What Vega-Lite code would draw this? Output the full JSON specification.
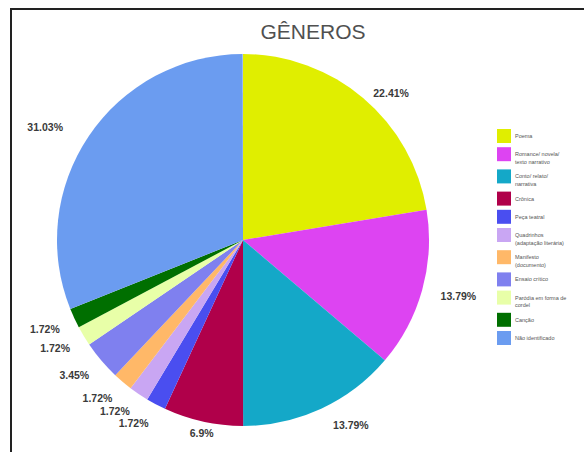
{
  "$schema": "https://vega.github.io/schema/vega-lite/v6.json",
  "autosize": "none",
  "width": 576,
  "height": 446,
  "padding": {"left": 11, "top": 9, "right": 0, "bottom": 0},
  "background": "white",
  "config": {
    "view": {"stroke": "#222222", "strokeWidth": 2},
    "font": "Liberation Sans"
  },
  "title": {
    "text": "GÊNEROS",
    "anchor": "middle",
    "dx": 14,
    "offset": -34,
    "fontSize": 21,
    "fontWeight": "normal",
    "color": "#505050",
    "font": "Liberation Sans"
  },
  "data": {
    "values": [
      {"i": 1, "genero": "Poema", "pct": 22.41, "rotulo": "22.41%"},
      {"i": 2, "genero": "Romance/ novela/ texto narrativo", "pct": 13.79, "rotulo": "13.79%"},
      {"i": 3, "genero": "Conto/ relato/ narrativa", "pct": 13.79, "rotulo": "13.79%"},
      {"i": 4, "genero": "Crônica", "pct": 6.9, "rotulo": "6.9%"},
      {"i": 5, "genero": "Peça teatral", "pct": 1.72, "rotulo": "1.72%"},
      {"i": 6, "genero": "Quadrinhos (adaptação literária)", "pct": 1.72, "rotulo": "1.72%"},
      {"i": 7, "genero": "Manifesto (documento)", "pct": 1.72, "rotulo": "1.72%"},
      {"i": 8, "genero": "Ensaio crítico", "pct": 3.45, "rotulo": "3.45%"},
      {"i": 9, "genero": "Paródia em forma de cordel", "pct": 1.72, "rotulo": "1.72%"},
      {"i": 10, "genero": "Canção", "pct": 1.72, "rotulo": "1.72%"},
      {"i": 11, "genero": "Não identificado", "pct": 31.03, "rotulo": "31.03%"}
    ]
  },
  "transform": [
    {"stack": "pct", "groupby": [], "sort": [{"field": "i", "order": "ascending"}], "as": ["a0", "a1"]},
    {"calculate": "(datum.a0 + datum.a1) / 2", "as": "meio"}
  ],
  "encoding": {
    "x": {"value": 232},
    "y": {"value": 231}
  },
  "layer": [
    {
      "mark": {"type": "arc", "outerRadius": 186},
      "encoding": {
        "theta": {"field": "a0", "type": "quantitative", "scale": {"domain": [0, 100]}},
        "theta2": {"field": "a1"},
        "color": {
          "field": "genero",
          "type": "nominal",
          "sort": null,
          "scale": {
            "domain": ["Poema", "Romance/ novela/ texto narrativo", "Conto/ relato/ narrativa", "Crônica", "Peça teatral", "Quadrinhos (adaptação literária)", "Manifesto (documento)", "Ensaio crítico", "Paródia em forma de cordel", "Canção", "Não identificado"],
            "range": ["#e0ee00", "#dd44f2", "#14a8c8", "#b0004a", "#4a4ef0", "#c9a6f3", "#ffb868", "#7f80ef", "#e8ffa8", "#006f00", "#6b9cf0"]
          },
          "legend": {
            "title": null,
            "orient": "none",
            "legendX": 486,
            "legendY": 120,
            "padding": 0,
            "symbolType": "square",
            "symbolSize": 196,
            "symbolStrokeWidth": 0,
            "symbolOpacity": 1,
            "labelFontSize": 5.5,
            "labelColor": "#555555",
            "labelOffset": 4,
            "labelLimit": 70,
            "rowPadding": 4.2,
            "labelExpr": "datum.label == 'Romance/ novela/ texto narrativo' ? ['Romance/ novela/', 'texto narrativo'] : datum.label == 'Conto/ relato/ narrativa' ? ['Conto/ relato/', 'narrativa'] : datum.label == 'Quadrinhos (adaptação literária)' ? ['Quadrinhos', '(adaptação literária)'] : datum.label == 'Manifesto (documento)' ? ['Manifesto', '(documento)'] : datum.label == 'Paródia em forma de cordel' ? ['Paródia em forma de', 'cordel'] : datum.label"
          }
        }
      }
    },
    {
      "transform": [{"filter": "datum.i == 1"}],
      "mark": {"type": "text", "radius": 192, "dx": 6, "dy": 5, "align": "left", "baseline": "bottom", "fontSize": 10.5, "fontWeight": "bold", "color": "#3a3a3a"},
      "encoding": {
        "theta": {"field": "meio", "type": "quantitative", "scale": {"domain": [0, 100]}},
        "text": {"field": "rotulo", "type": "nominal"}
      }
    },
    {
      "transform": [{"filter": "datum.i == 2"}],
      "mark": {"type": "text", "radius": 205, "dy": 2, "align": "left", "baseline": "middle", "fontSize": 10.5, "fontWeight": "bold", "color": "#3a3a3a"},
      "encoding": {
        "theta": {"field": "meio", "type": "quantitative", "scale": {"domain": [0, 100]}},
        "text": {"field": "rotulo", "type": "nominal"}
      }
    },
    {
      "transform": [{"filter": "datum.i == 3"}],
      "mark": {"type": "text", "radius": 200, "dx": 6, "align": "left", "baseline": "top", "fontSize": 10.5, "fontWeight": "bold", "color": "#3a3a3a"},
      "encoding": {
        "theta": {"field": "meio", "type": "quantitative", "scale": {"domain": [0, 100]}},
        "text": {"field": "rotulo", "type": "nominal"}
      }
    },
    {
      "transform": [{"filter": "datum.i == 4"}],
      "mark": {"type": "text", "radius": 193, "align": "center", "baseline": "top", "fontSize": 10.5, "fontWeight": "bold", "color": "#3a3a3a"},
      "encoding": {
        "theta": {"field": "meio", "type": "quantitative", "scale": {"domain": [0, 100]}},
        "text": {"field": "rotulo", "type": "nominal"}
      }
    },
    {
      "transform": [{"filter": "datum.i >= 5 && datum.i <= 10"}],
      "mark": {"type": "text", "radius": 202, "align": "right", "baseline": "top", "fontSize": 10.5, "fontWeight": "bold", "color": "#3a3a3a"},
      "encoding": {
        "theta": {"field": "meio", "type": "quantitative", "scale": {"domain": [0, 100]}},
        "text": {"field": "rotulo", "type": "nominal"}
      }
    },
    {
      "transform": [{"filter": "datum.i == 11"}],
      "mark": {"type": "text", "radius": 210, "dx": -6, "dy": 11, "align": "right", "baseline": "bottom", "fontSize": 10.5, "fontWeight": "bold", "color": "#3a3a3a"},
      "encoding": {
        "theta": {"field": "meio", "type": "quantitative", "scale": {"domain": [0, 100]}},
        "text": {"field": "rotulo", "type": "nominal"}
      }
    }
  ]
}
